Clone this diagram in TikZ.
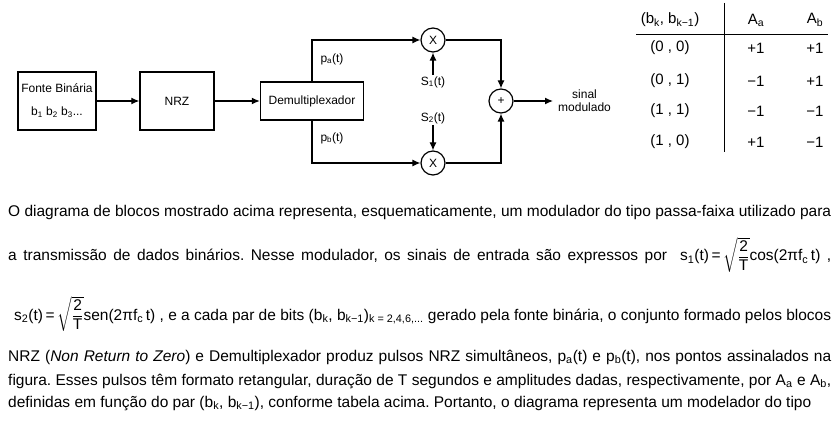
\documentclass[tikz,border=0pt]{standalone}
\usepackage{amsmath}
\usepackage{fontspec}
\setmainfont{Liberation Sans}
\usetikzlibrary{arrows.meta,positioning}

\newcommand{\sub}[1]{$_{\text{#1}}$}
\frenchspacing

\begin{document}
\begin{tikzpicture}[x=1pt,y=-1pt,
  blk/.style={draw,line width=1.4pt,inner sep=0pt,align=center,font=\fontsize{12}{14}\selectfont},
  op/.style={draw,circle,line width=1.2pt,minimum size=24pt,inner sep=0pt,font=\fontsize{12}{14}\selectfont},
  lbl/.style={inner sep=1pt,font=\fontsize{12}{14}\selectfont},
  sig/.style={line width=1.2pt,-{Latex[length=8pt,width=7pt]}},
  cell/.style={font=\fontsize{15}{17}\selectfont},
  txt/.style={anchor=base west,inner sep=0pt,font=\fontsize{15.5}{17}\selectfont}]
\useasboundingbox (0,0) rectangle (836,422);
\node[blk,minimum width=78pt,minimum height=58pt] (fonte) at (57,101) {Fonte Binária\\[9pt]b\sub{1} b\sub{2} b\sub{3}...};
\node[blk,minimum width=74pt,minimum height=58pt] (nrz) at (177,101) {NRZ};
\node[blk,minimum width=103pt,minimum height=38pt] (demux) at (312,101) {Demultiplexador};
\node[op] (xa) at (433,40) {X};
\node[op] (xb) at (433,163) {X};
\node[op] (sum) at (501,101) {+};
\node[lbl] (pa) at (332,59) {p\sub{a}(t)};
\node[lbl] (pb) at (332,138) {p\sub{b}(t)};
\node[lbl] (s1) at (433,82) {S\sub{1}(t)};
\node[lbl] (s2) at (433,118) {S\sub{2}(t)};
\coordinate (out) at (553,101);
\node[lbl,align=center,font=\fontsize{12}{13}\selectfont,right=4pt of out] (saida) {sinal\\modulado};
\draw[sig] (fonte) -- (nrz);
\draw[sig] (nrz) -- (demux);
\draw[sig] (demux.north) |- (xa);
\draw[sig] (demux.south) |- (xb);
\draw[sig] (s1) -- (xa);
\draw[sig] (s2) -- (xb);
\draw[sig] (xa) -| (sum);
\draw[sig] (xb) -| (sum);
\draw[sig] (sum) -- (out);
\node[cell] (hbit) at (670,20) {(b\sub{k}, b\sub{k−1})};
\node[cell] (ha) at (756,20) {A\sub{a}};
\node[cell] (hb) at (815,20) {A\sub{b}};
\draw[line width=1pt] (636,35) -- (828,35);
\draw[line width=1pt] (724,3) -- (724,152);
\foreach \y/\p/\a/\b in {48/{(0 , 0)}/+1/+1,81/{(0 , 1)}/−1/+1,111/{(1 , 1)}/−1/−1,142/{(1 , 0)}/+1/−1}{
  \node[cell] at (670,\y) {\p};
  \node[cell] at (756,\y) {\a};
  \node[cell] at (815,\y) {\b};
}
\node[txt] (l1) at (8,217) {\makebox[823pt][s]{O diagrama de blocos mostrado acima representa, esquematicamente, um modulador do tipo passa-faixa utilizado para}};
\node[txt] (l2) at (8,261) {\makebox[823pt][s]{a transmissão de dados binários. Nesse modulador, os sinais de entrada são expressos por \ s\sub{1}(t)\,=\,$\sqrt{\dfrac{\text{2}}{\text{T}}}$cos(2πf\sub{c}\,t) ,}};
\node[txt] (l3) at (14,320) {\makebox[817pt][s]{s\sub{2}(t)\,=\,$\sqrt{\dfrac{\text{2}}{\text{T}}}$sen(2πf\sub{c}\,t) , e a cada par de bits (b\sub{k}, b\sub{k−1})\sub{k = 2,4,6,...} gerado pela fonte binária, o conjunto formado pelos blocos}};
\node[txt] (l4) at (8,361) {\makebox[823pt][s]{NRZ (\textit{Non Return to Zero}) e Demultiplexador produz pulsos NRZ simultâneos, p\sub{a}(t) e p\sub{b}(t), nos pontos assinalados na}};
\node[txt] (l5) at (8,385) {\makebox[823pt][s]{figura. Esses pulsos têm formato retangular, duração de T segundos e amplitudes dadas, respectivamente, por A\sub{a} e A\sub{b},}};
\node[txt] (l6) at (8,407) {definidas em função do par (b\sub{k}, b\sub{k−1}), conforme tabela acima. Portanto, o diagrama representa um modelador do tipo};
\end{tikzpicture}
\end{document}
